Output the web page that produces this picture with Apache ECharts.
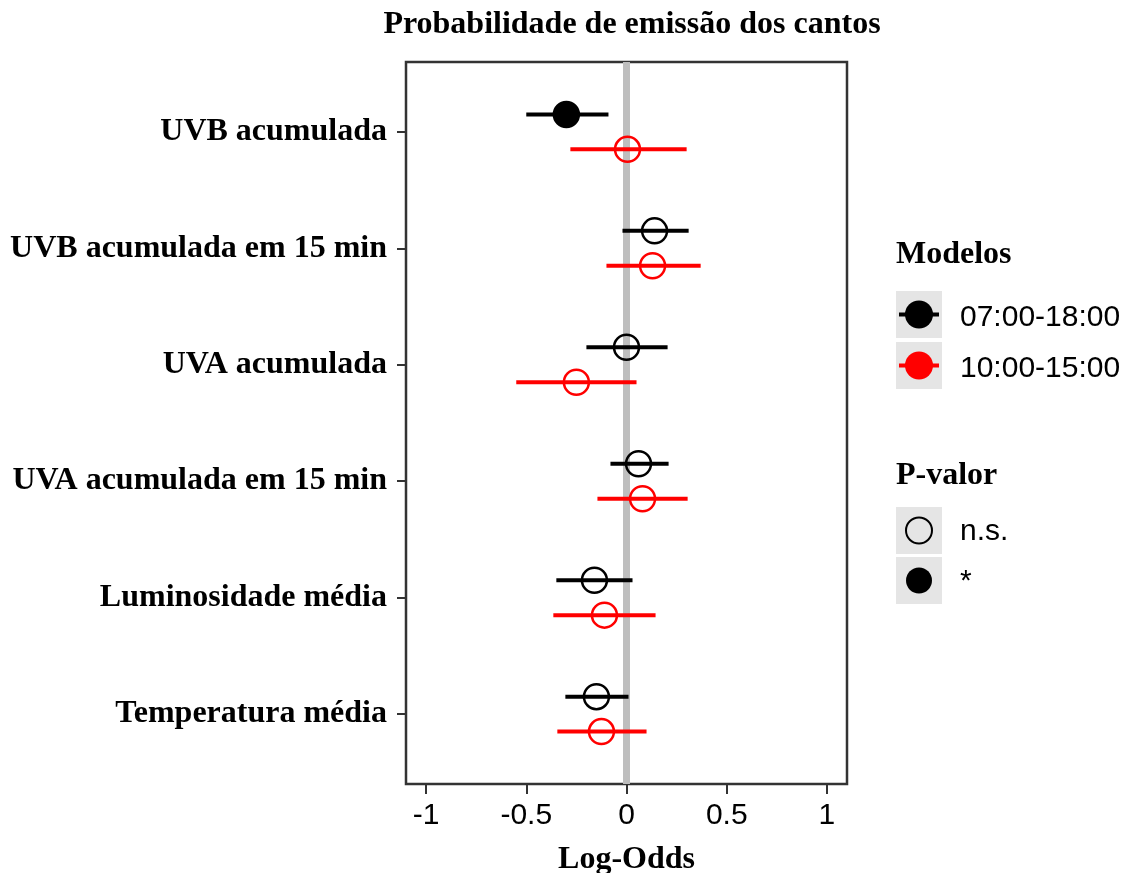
<!DOCTYPE html>
<html>
<head>
<meta charset="utf-8">
<script src="https://cdn.jsdelivr.net/npm/echarts@6/dist/echarts.min.js"></script>
<style>
html,body{margin:0;padding:0;background:#fff;}
#chart{width:1138px;height:873px;}
</style>
</head>
<body>
<div id="chart"></div>
<script>
// ---- data ----
const categories = ['UVB acumulada','UVB acumulada em 15 min','UVA acumulada','UVA acumulada em 15 min','Luminosidade média','Temperatura média'];
const modelNames = ['07:00-18:00','10:00-15:00'];
const modelColors = ['#000000','#ff0000'];
const est_0718 = [-0.30, 0.14, 0.00, 0.06, -0.16, -0.15];
const lo_0718  = [-0.50, -0.02, -0.20, -0.08, -0.35, -0.305];
const hi_0718  = [-0.09, 0.31, 0.205, 0.21, 0.03, 0.01];
const sig_0718 = [1, 0, 0, 0, 0, 0];
const est_1015 = [0.005, 0.13, -0.25, 0.08, -0.11, -0.125];
const lo_1015  = [-0.28, -0.10, -0.55, -0.145, -0.365, -0.345];
const hi_1015  = [0.30, 0.37, 0.05, 0.305, 0.145, 0.10];
const sig_1015 = [0, 0, 0, 0, 0, 0];
const xTicks = [-1, -0.5, 0, 0.5, 1];
const pLabels = ['n.s.', '*'];

const dodge = [-0.15, 0.15];
const models = [
  {est: est_0718, lo: lo_0718, hi: hi_0718, sig: sig_0718},
  {est: est_1015, lo: lo_1015, hi: hi_1015, sig: sig_1015}
];

const serif = '"Liberation Serif","Times New Roman",serif';
const sans = '"Liberation Sans",Arial,sans-serif';

const series = [];
// zero reference line
series.push({
  type: 'line', z: 1, silent: true, symbol: 'none',
  data: [[0, 0.4], [0, 6.6]],
  lineStyle: {color: '#bebebe', width: 7}
});
models.forEach((m, k) => {
  const col = modelColors[k];
  series.push({
    type: 'custom', z: 2, name: modelNames[k] + ' CI',
    data: categories.map((c, i) => [m.lo[i], m.hi[i], i + 1 + dodge[k]]),
    encode: {x: [0, 1], y: 2},
    renderItem: function (params, api) {
      const y = api.value(2);
      const p1 = api.coord([api.value(0), y]);
      const p2 = api.coord([api.value(1), y]);
      return {type: 'line', shape: {x1: p1[0], y1: p1[1], x2: p2[0], y2: p2[1]},
              style: {stroke: col, lineWidth: 4}};
    }
  });
});
models.forEach((m, k) => {
  const col = modelColors[k];
  series.push({
    type: 'scatter', z: 3, name: modelNames[k],
    symbol: 'circle', symbolSize: 25,
    data: categories.map((c, i) => ({
      value: [m.est[i], i + 1 + dodge[k]],
      itemStyle: {opacity: 1, color: m.sig[i] ? col : 'rgba(0,0,0,0)', borderColor: col, borderWidth: 2.5}
    }))
  });
});

// legend built as graphics
const keyX = 896, keyW = 46, keyH = 47;
function keyBox(y) { return {type: 'rect', shape: {x: keyX, y: y, width: keyW, height: keyH}, style: {fill: '#e5e5e5'}}; }
function txt(x, y, s, font) {
  return {type: 'text', x: x, y: y, style: {text: s, font: font, fill: '#000', verticalAlign: 'middle', align: 'left'}};
}
const graphics = [];
graphics.push(txt(896, 255, 'Modelos', 'bold 32px ' + serif));
[291, 342].forEach((y, k) => {
  graphics.push(keyBox(y));
  graphics.push({type: 'line', shape: {x1: keyX + 3, y1: y + keyH / 2, x2: keyX + keyW - 3, y2: y + keyH / 2}, style: {stroke: modelColors[k], lineWidth: 4}});
  graphics.push({type: 'circle', shape: {cx: keyX + keyW / 2, cy: y + keyH / 2, r: 14}, style: {fill: modelColors[k]}});
  graphics.push(txt(960, y + 27, modelNames[k], '30px ' + sans));
});
graphics.push(txt(896, 476, 'P-valor', 'bold 32px ' + serif));
[507, 557].forEach((y, k) => {
  graphics.push(keyBox(y));
  graphics.push({type: 'circle', shape: {cx: keyX + keyW / 2, cy: y + keyH / 2, r: 13},
    style: k === 0 ? {fill: 'none', stroke: '#000', lineWidth: 2} : {fill: '#000'}});
  graphics.push(txt(960, y + 25, pLabels[k], '30px ' + sans));
});

const chart = echarts.init(document.getElementById('chart'), null, {renderer: 'canvas'});
chart.setOption({
  animation: false,
  backgroundColor: '#fff',
  title: {
    text: 'Probabilidade de emissão dos cantos',
    left: 627, top: 4, textAlign: 'center',
    textStyle: {fontFamily: serif, fontWeight: 'bold', fontSize: 32, color: '#000'}
  },
  grid: {left: 406, right: 291, top: 62, bottom: 89, show: true, borderColor: '#333', borderWidth: 2.5,
    backgroundColor: '#fff', containLabel: false, outerBoundsMode: 'none'},
  xAxis: {
    type: 'value', min: -1.1, max: 1.1,
    name: 'Log-Odds', nameLocation: 'middle', nameGap: 60,
    nameTextStyle: {fontFamily: serif, fontWeight: 'bold', fontSize: 32, color: '#000'},
    axisLine: {show: false, onZero: false},
    axisTick: {show: true, length: 10, customValues: xTicks, lineStyle: {color: '#333', width: 2}},
    axisLabel: {customValues: xTicks, fontFamily: sans, fontSize: 30, color: '#000', margin: 17,
      formatter: v => String(v)},
    splitLine: {show: false}
  },
  yAxis: {
    type: 'value', min: 0.4, max: 6.6, inverse: true,
    axisLine: {show: false, onZero: false},
    axisTick: {show: true, length: 9, customValues: [1, 2, 3, 4, 5, 6], lineStyle: {color: '#333', width: 2}},
    axisLabel: {customValues: [1, 2, 3, 4, 5, 6], fontFamily: serif, fontWeight: 'bold', fontSize: 32, color: '#000', margin: 19,
      formatter: v => categories[Math.round(v) - 1] || ''},
    splitLine: {show: false}
  },
  graphic: graphics,
  series: series
});
</script>
</body>
</html>
